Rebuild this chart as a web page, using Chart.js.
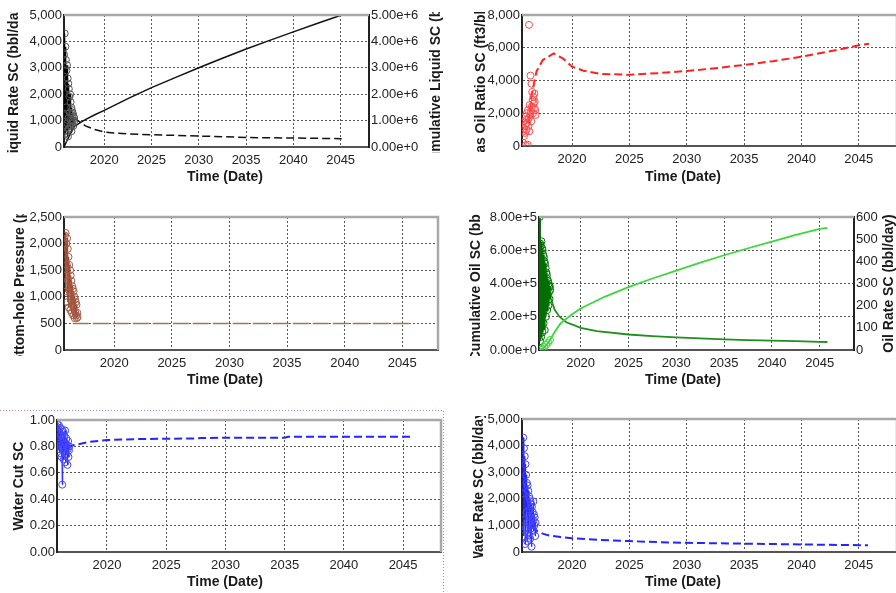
<!DOCTYPE html>
<html>
<head>
<meta charset="utf-8">
<script src="https://cdn.jsdelivr.net/npm/chart.js@4.4.1/dist/chart.umd.min.js"></script>
<style>
html, body { margin: 0; padding: 0; background: #fff; width: 896px; height: 593px; overflow: hidden; position: relative; }
canvas { position: absolute; }
</style>
</head>
<body>
<canvas id="liquid"></canvas>
<canvas id="gor"></canvas>
<canvas id="bhp"></canvas>
<canvas id="oil"></canvas>
<canvas id="wcut"></canvas>
<canvas id="water"></canvas>
<script>
// x ticks (decimal years)
const years = [2020, 2025, 2030, 2035, 2040, 2045];

// measured history, one sample per ~11 days
const histT = [2015.72, 2015.75, 2015.78, 2015.81, 2015.84, 2015.88, 2015.91, 2015.94, 2015.97, 2016.00,
  2016.03, 2016.06, 2016.09, 2016.13, 2016.16, 2016.19, 2016.22, 2016.25, 2016.28, 2016.31,
  2016.35, 2016.38, 2016.41, 2016.44, 2016.47, 2016.50, 2016.53, 2016.57, 2016.60, 2016.63,
  2016.66, 2016.69, 2016.72, 2016.75, 2016.79, 2016.82];
const liqHist = [300, 3500, 800, 4300, 1200, 3800, 500, 3300, 1500, 2900, 600, 3100, 900, 2600, 400, 2400, 1100, 2200,
  700, 1900, 1300, 2000, 800, 1700, 1000, 1500, 600, 1400, 900, 1300, 1000, 1250, 800, 1150, 950, 1100];
const gorHist = [200, 900, 1500, 600, 1100, 1800, 800, 1300, 50, 1600, 1000, 2000, 1400, 80, 2200, 1200, 1700, 7400,
  900, 2500, 1900, 4300, 2100, 1500, 3800, 2400, 3300, 2800, 2000, 3000, 2600, 2300, 3200, 2700, 2200, 1900];
const bhpHist = [2150, 1400, 2200, 1100, 2000, 1600, 2100, 900, 1900, 1300, 1750, 800, 1600, 1100, 1500, 750, 1400, 950,
  1300, 700, 1200, 850, 1150, 650, 1100, 800, 1000, 600, 950, 700, 900, 650, 850, 600, 700, 620];
const oilHist = [600, 40, 480, 100, 470, 60, 490, 150, 460, 80, 450, 200, 430, 120, 420, 180, 400, 90,
  390, 220, 370, 150, 350, 240, 340, 180, 320, 250, 310, 200, 300, 260, 290, 230, 285, 270];
const wcHist = [0, 0.95, 0.80, 0.97, 0.85, 0.92, 0.78, 0.96, 0.82, 0.90, 0.75, 0.94, 0.80, 0.88, 0.72, 0.93, 0.51, 0.86,
  0.79, 0.91, 0.70, 0.84, 0.88, 0.76, 0.92, 0.68, 0.82, 0.86, 0.74, 0.80, 0.66, 0.78, 0.84, 0.72, 0.77, 0.80];
const wrHist = [2200, 4300, 600, 3900, 1200, 3600, 300, 3300, 900, 2900, 1500, 2600, 400, 2500, 1100, 2300, 700, 2100,
  1600, 2000, 500, 1900, 1300, 1800, 200, 1700, 900, 1500, 1200, 1900, 800, 1400, 1000, 1300, 600, 1100];
const cumOilHistT = [2015.8, 2016.0, 2016.2, 2016.4, 2016.6, 2016.8];
const cumOilHist = [2000, 8000, 17000, 30000, 45000, 60000];

// forecasts
const liqT = [2016.84, 2017.2, 2017.6, 2018, 2019, 2020, 2021, 2022.5, 2025, 2027.5, 2030, 2032.5, 2035, 2037.5, 2040, 2042.5, 2045.1];
const liqRate = [1130, 1000, 900, 800, 660, 570, 530, 495, 465, 440, 415, 390, 360, 350, 340, 328, 316];
const cumLiqT = [2015.74, 2016.0, 2016.3, 2016.6, 2016.84, 2017.5, 2018, 2019, 2020, 2022.5, 2025, 2027.5, 2030, 2032.5, 2035, 2037.5, 2040, 2042.5, 2045.1];
const cumLiq = [0, 200000, 420000, 620000, 780000, 930000, 1040000, 1220000, 1390000, 1830000, 2250000, 2630000,
  3000000, 3360000, 3710000, 4040000, 4360000, 4680000, 5000000];
const gorT = [2016.25, 2016.45, 2016.9, 2017.45, 2018.4, 2019.2, 2020, 2021, 2022.5, 2025, 2027.5, 2030, 2032.5, 2035, 2037.5, 2040, 2042.5, 2045, 2045.9];
const gorFc = [1400, 3000, 4550, 5250, 5650, 5350, 4850, 4600, 4400, 4350, 4450, 4580, 4750, 4950, 5180, 5450, 5780, 6150, 6250];
const bhpT = [2016.4, 2045.8];
const bhpFc = [500, 500];
const oilT = [2016.7, 2016.9, 2017.3, 2017.8, 2018.5, 2019.3, 2020, 2021.7, 2025, 2027.5, 2030, 2032.5, 2035, 2037.5, 2040, 2042.5, 2045, 2045.8];
const oilRate = [270, 230, 180, 150, 125, 112, 100, 85, 70, 63, 57, 52, 48, 45, 42, 40, 37, 36];
const cumOilT = [2015.7, 2016.1, 2016.5, 2016.8, 2017.3, 2017.9, 2019, 2020, 2022.5, 2025, 2027.5, 2030, 2032.5, 2035, 2037.5, 2040, 2042.5, 2045, 2045.8];
const cumOil = [0, 10000, 35000, 60000, 110000, 160000, 210000, 250000, 320000, 378000, 430000, 478000, 525000, 570000, 612000, 652000, 692000, 728000, 735000];
const wcT = [2016.6, 2017.5, 2018.5, 2020, 2022.5, 2025, 2027.5, 2028, 2030, 2035, 2035.3, 2040, 2045.6];
const wcFc = [0.80, 0.815, 0.835, 0.848, 0.855, 0.858, 0.86, 0.864, 0.865, 0.866, 0.873, 0.874, 0.873];
const wrT = [2016.6, 2016.9, 2017.5, 2018, 2019, 2020, 2022.5, 2025, 2027.5, 2030, 2032.5, 2035, 2037.5, 2040, 2042.5, 2045, 2045.8];
const wrFc = [1000, 800, 680, 620, 560, 520, 450, 410, 370, 345, 330, 315, 300, 285, 270, 258, 255];

Chart.defaults.font.family = '"Liberation Sans", Arial, sans-serif';
Chart.defaults.font.size = 13;
Chart.defaults.color = '#222';

const FONT_B = 'bold 14px "Liberation Sans", Arial, sans-serif';

// frame edges, axis titles (clipped to plot height) and the focus box
const decor = {
  id: 'decor',
  afterDraw(chart, args, o) {
    const ctx = chart.ctx, a = chart.chartArea;
    ctx.save();
    if (o.focus) {
      ctx.strokeStyle = '#8c8cf2';
      ctx.lineWidth = 1;
      ctx.setLineDash([1, 2]);
      ctx.beginPath();
      ctx.moveTo(0, o.focus[1] + 0.5);
      ctx.lineTo(o.focus[0] + 0.5, o.focus[1] + 0.5);
      ctx.lineTo(o.focus[0] + 0.5, chart.height);
      ctx.stroke();
      ctx.setLineDash([]);
    }
    ctx.strokeStyle = '#a8a8a8';
    ctx.lineWidth = 2.5;
    ctx.beginPath();
    ctx.moveTo(a.left, a.top);
    ctx.lineTo(a.right, a.top);
    if (o.rightEdge) ctx.lineTo(a.right, a.bottom);
    ctx.stroke();

    ctx.fillStyle = '#1a1a1a';
    ctx.font = FONT_B;
    ctx.textAlign = 'center';
    ctx.textBaseline = 'middle';
    ctx.fillText('Time (Date)', o.xTitle[0], o.xTitle[1]);
    ctx.beginPath();
    ctx.rect(0, a.top - 3, chart.width, a.bottom - a.top + 9);
    ctx.clip();
    for (const t of o.yTitles) {
      ctx.save();
      ctx.translate(t[1], (a.top + a.bottom) / 2);
      ctx.rotate(-Math.PI / 2);
      ctx.fillText(t[0], 0, 0);
      ctx.restore();
    }
    ctx.restore();
  }
};
Chart.register(decor);

function pts(xs, ys) {
  return xs.map((x, i) => ({x: x, y: ys[i]}));
}
function zigzag(xs, ys, color, width, axis) {
  return {data: pts(xs, ys), borderColor: color, borderWidth: width, pointRadius: 0, yAxisID: axis || 'y'};
}
function dots(xs, ys, color, axis) {
  return {data: pts(xs, ys), showLine: false, pointRadius: 3.5, pointBorderWidth: 1,
    pointBorderColor: color, pointBackgroundColor: 'rgba(0,0,0,0)', yAxisID: axis || 'y'};
}
function curve(xs, ys, color, dash, width, axis) {
  return {data: pts(xs, ys), borderColor: color, borderWidth: width, borderDash: dash, pointRadius: 0, yAxisID: axis || 'y'};
}

const comma = v => v.toLocaleString('en-US');
const expo = v => v.toExponential(2);
const fixed2 = v => v.toFixed(2);

function yAxis(min, max, step, fmt, side) {
  return {
    position: side, min: min, max: max,
    afterFit: s => { s.width = side == 'left' ? 50 : 60; },
    ticks: {stepSize: step, callback: fmt, padding: 2, color: '#222'},
    grid: {color: '#555', lineWidth: 1, drawTicks: false, drawOnChartArea: side == 'left'},
    border: {color: '#222', width: 2, dash: [2, 2]}
  };
}

function panel(id, box, plot, opt) {
  let cv = document.getElementById(id);
  cv.width = box.w;
  cv.height = box.h;
  cv.style.left = box.x + 'px';
  cv.style.top = box.y + 'px';
  let scales = {
    x: {
      type: 'linear', min: opt.xmin, max: opt.xmax,
      afterBuildTicks: s => { s.ticks = years.map(v => ({value: v})); },
      afterFit: s => { s.height = 20; },
      ticks: {callback: v => String(v), padding: 6, maxRotation: 0, autoSkip: false, color: '#222'},
      grid: {color: '#555', lineWidth: 1, drawTicks: false},
      border: {color: '#555', width: 2, dash: [2, 2]}
    },
    y: opt.y
  };
  if (opt.y2) scales.y2 = opt.y2;
  new Chart(cv, {
    type: 'line',
    data: {datasets: opt.datasets},
    options: {
      responsive: false, animation: false, devicePixelRatio: 1,
      elements: {line: {tension: 0}},
      layout: {padding: {
        left: plot.l - box.x - 50,
        top: plot.t - box.y,
        right: box.x + box.w - plot.r - (opt.y2 ? 60 : 0),
        bottom: box.y + box.h - plot.b - 20
      }},
      scales: scales,
      plugins: {
        legend: {display: false}, tooltip: {enabled: false},
        decor: {xTitle: opt.xTitle, yTitles: opt.yTitles, rightEdge: !opt.y2, focus: opt.focus}
      }
    }
  });
}

const BLUE = '#2424ff';

panel('liquid', {x: 0, y: 0, w: 448, h: 200}, {l: 64, t: 15, r: 369, b: 147}, {
  xmin: 2015.74, xmax: 2048.0,
  y: yAxis(0, 5000, 1000, comma, 'left'),
  y2: yAxis(0, 5000000, 1000000, expo, 'right'),
  xTitle: [225, 177],
  yTitles: [['Liquid Rate SC (bbl/day)', 14], ['Cumulative Liquid SC (bbl)', 436]],
  datasets: [
    dots(histT, liqHist, '#555'),
    zigzag(histT, liqHist, '#000', 1.2),
    curve(liqT, liqRate, '#111', [8, 4], 1.5),
    curve(cumLiqT, cumLiq, '#111', [], 1.5, 'y2')
  ]
});

panel('gor', {x: 448, y: 0, w: 472, h: 200}, {l: 522, t: 15, r: 897, b: 146}, {
  xmin: 2015.64, xmax: 2048.33,
  y: yAxis(0, 8000, 2000, comma, 'left'),
  xTitle: [235, 177],
  yTitles: [['Gas Oil Ratio SC (ft3/bbl)', 33]],
  datasets: [
    dots(histT, gorHist, '#ff4a4a'),
    curve(gorT, gorFc, '#ff2020', [8, 4], 2)
  ]
});

panel('bhp', {x: 0, y: 200, w: 448, h: 200}, {l: 64, t: 217, r: 438, b: 350}, {
  xmin: 2015.64, xmax: 2048.1,
  y: yAxis(0, 2500, 500, comma, 'left'),
  xTitle: [225, 180],
  yTitles: [['Bottom-hole Pressure (psi)', 20]],
  datasets: [
    dots(histT, bhpHist, '#a55a46'),
    zigzag(histT, bhpHist, '#9c4a34', 1),
    curve(bhpT, bhpFc, '#a8705e', [16, 4], 1.5)
  ]
});

panel('oil', {x: 448, y: 200, w: 472, h: 200}, {l: 539, t: 217, r: 854, b: 350}, {
  xmin: 2015.65, xmax: 2048.58,
  y: yAxis(0, 800000, 200000, expo, 'left'),
  y2: yAxis(0, 600, 100, comma, 'right'),
  xTitle: [235, 180],
  yTitles: [['Cumulative Oil SC (bbl)', 28], ['Oil Rate SC (bbl/day)', 441]],
  datasets: [
    dots(cumOilHistT, cumOilHist, '#3ad83a'),
    curve(cumOilT, cumOil, '#3ad83a', [], 1.8),
    zigzag(histT, oilHist, '#006e00', 2, 'y2'),
    dots(histT, oilHist, '#007800', 'y2'),
    curve(oilT, oilRate, '#1f8f1f', [], 1.8, 'y2')
  ]
});

panel('wcut', {x: 0, y: 400, w: 448, h: 193}, {l: 57, t: 420, r: 441, b: 552}, {
  xmin: 2015.78, xmax: 2048.2,
  y: yAxis(0, 1, 0.2, fixed2, 'left'),
  xTitle: [225, 182],
  yTitles: [['Water Cut SC', 19]],
  focus: [443, 10],
  datasets: [
    dots(histT.slice(1), wcHist.slice(1), '#4646ff'),
    zigzag(histT, wcHist, BLUE, 1),
    curve(wcT, wcFc, BLUE, [8, 4], 2)
  ]
});

panel('water', {x: 448, y: 400, w: 472, h: 193}, {l: 522, t: 419, r: 897, b: 552}, {
  xmin: 2015.64, xmax: 2048.33,
  y: yAxis(0, 5000, 1000, comma, 'left'),
  xTitle: [235, 182],
  yTitles: [['Water Rate SC (bbl/day)', 31]],
  datasets: [
    dots(histT, wrHist, '#4646ff'),
    zigzag(histT, wrHist, BLUE, 1),
    curve(wrT, wrFc, BLUE, [8, 4], 2)
  ]
});
</script>
</body>
</html>
